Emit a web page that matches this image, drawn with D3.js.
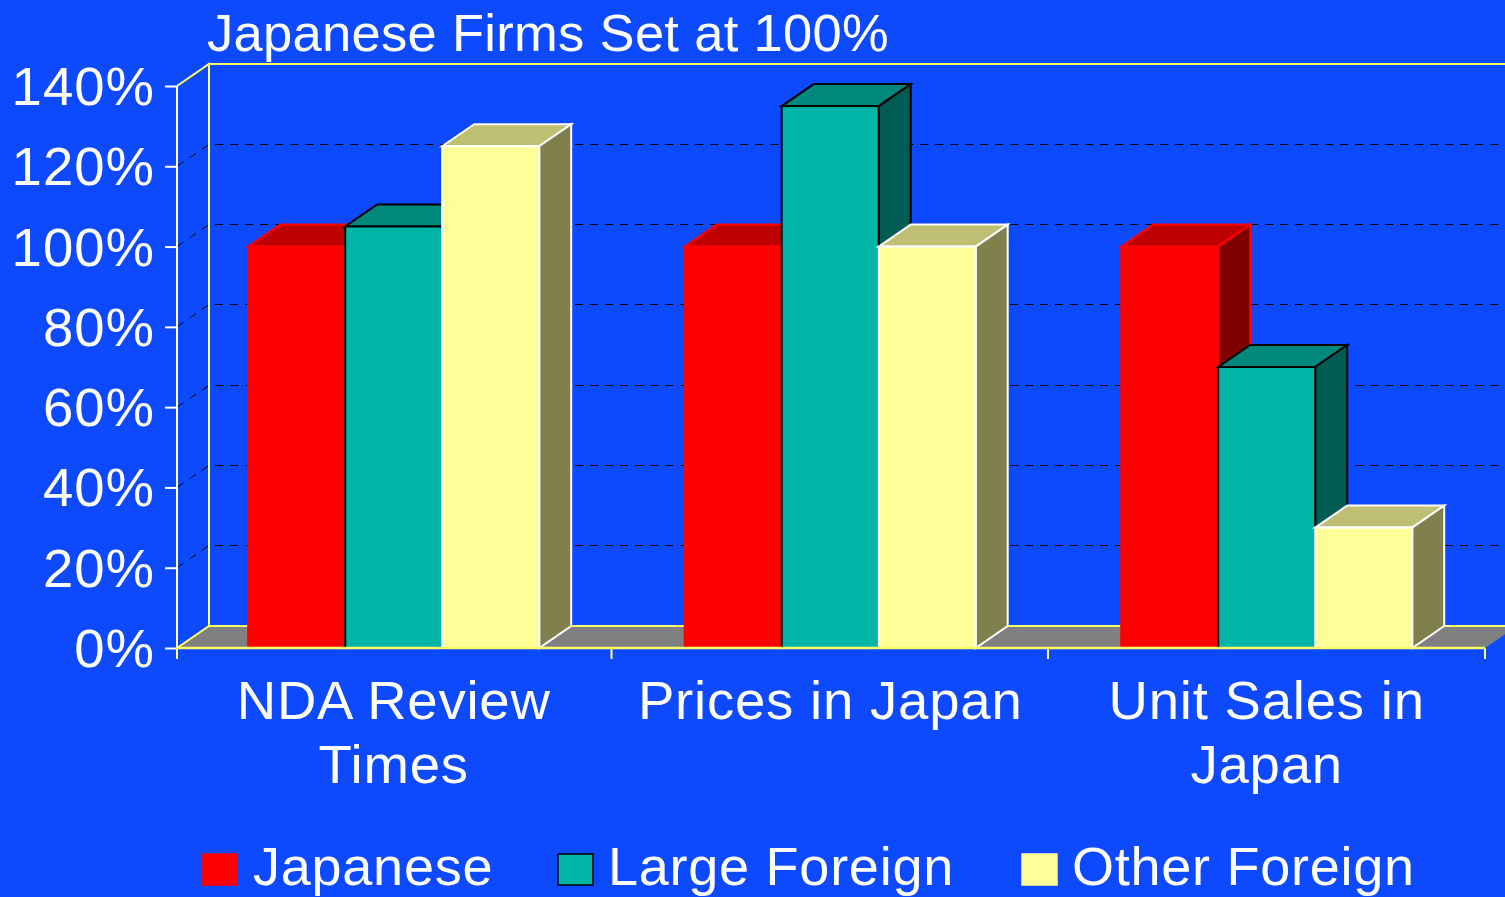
<!DOCTYPE html>
<html><head><meta charset="utf-8">
<script src="https://cdnjs.cloudflare.com/ajax/libs/d3/7.8.5/d3.min.js"></script>
<style>html,body{margin:0;padding:0;background:#0d49ff;overflow:hidden}text{font-family:"Liberation Sans",Arial,sans-serif;fill:#fff}</style>
</head><body><svg id="c" width="1505" height="897"></svg>
<script>
const titleText = "Japanese Firms Set at 100%";
const categories = [["NDA Review","Times"],["Prices in Japan"],["Unit Sales in","Japan"]];
const seriesNames = ["Japanese","Large Foreign","Other Foreign"];
const japanese = [100,100,100];
const largeForeign = [105,135,70];
const otherForeign = [125,100,30];
const yTicks = [0,20,40,60,80,100,120,140];
const seriesValues = [japanese,largeForeign,otherForeign];
const fronts = ["#ff0000","#00b5a5","#ffff99"];
const tops = ["#bf0000","#00887c","#bfbf73"];
const sides = ["#800000","#005b53","#80804d"];
const strokes = ["#ff0000","#000000","#ffffff"];

const dx = 32, dy = -22;
const svg = d3.select("#c");
const x0 = d3.scaleBand().domain(d3.range(categories.length)).range([175.45,1484.95]).paddingInner(1/3).paddingOuter(1/6);
const x1 = d3.scaleBand().domain(d3.range(seriesNames.length)).range([0,x0.bandwidth()]);
const y = d3.scaleLinear().domain([0,140]).range([648,86]);
const AXIS = "#ffff66";

// floor
svg.append("path").attr("d",`M177,${y(0)}L${177+dx},${y(0)+dy}H1517L1485,${y(0)}Z`).attr("fill","#808080");
svg.append("path").attr("d",`M177,${y(0)}L${177+dx},${y(0)+dy}H1517`).attr("fill","none").attr("stroke",AXIS).attr("stroke-width",2);

// gridlines
yTicks.filter(t=>t>0 && t<140).forEach(t=>{
  const by = Math.floor(y(t)+dy)+0.5;
  svg.append("path").attr("d",`M177,${y(t)}L${177+dx},${by}H1517`)
    .attr("fill","none").attr("stroke","#000").attr("stroke-width",1).attr("stroke-dasharray","8 7");
});
// back wall frame
svg.append("path").attr("d",`M177,${y(140)}L${177+dx},${y(140)+dy}V${y(0)+dy}M${177+dx},${y(140)+dy}H1517`)
  .attr("fill","none").attr("stroke",AXIS).attr("stroke-width",2);

// bars
categories.forEach((c,i)=>{
  seriesValues.forEach((vals,s)=>{
    const l = x0(i)+x1(s), w = x1.bandwidth(), t = y(vals[i]), b = y(0), r = l+w;
    const g = svg.append("g").attr("stroke",strokes[s]).attr("stroke-width",2).attr("stroke-linejoin","miter");
    g.append("path").attr("d",`M${l},${t}L${l+dx},${t+dy}H${r+dx}L${r},${t}Z`).attr("fill",tops[s]);
    g.append("path").attr("d",`M${r},${t}L${r+dx},${t+dy}V${b+dy}L${r},${b}Z`).attr("fill",sides[s]);
    g.append("rect").attr("x",l).attr("y",t).attr("width",w).attr("height",b-t).attr("fill",fronts[s]);
  });
});

// axes
const yAxis = d3.axisLeft(y).tickValues(yTicks).tickSize(12).tickPadding(10).tickFormat(d=>d+"%");
const yg = svg.append("g").attr("transform","translate(177,0)").call(yAxis);
yg.selectAll("path,line").attr("stroke","#fff").attr("stroke-width",2);
yg.select(".domain").attr("d",`M0,${y(140)}V${y(0)}`);
yg.selectAll("text").attr("font-size",54.5).attr("letter-spacing",1).attr("font-family",'"Liberation Sans"').attr("fill","#fff").attr("dy","0.34em");

const xTickVals = [177,611.5,1048,1485];
svg.append("path").attr("d",`M177,${y(0)}H1485`).attr("stroke",AXIS).attr("stroke-width",2.5).attr("fill","none");
svg.selectAll(".xt").data(xTickVals).enter().append("line").attr("x1",d=>d).attr("x2",d=>d).attr("y1",y(0)).attr("y2",y(0)+11).attr("stroke",AXIS).attr("stroke-width",2);

categories.forEach((lines,i)=>{
  lines.forEach((ln,j)=>{
    svg.append("text").attr("x",x0(i)+x0.bandwidth()/2).attr("y",719+j*63.5).attr("text-anchor","middle").attr("font-size",54.5).attr("letter-spacing",0.8).text(ln);
  });
});

svg.append("text").attr("x",207).attr("y",50.5).attr("font-size",52.5).attr("letter-spacing",0.3).text(titleText);

// legend
const legX = [202,558,1022];
const legTextX = [253,608,1072];
seriesNames.forEach((n,i)=>{
  svg.append("rect").attr("x",legX[i]).attr("y",854).attr("width",35).attr("height",31).attr("fill",fronts[i]).attr("stroke",strokes[i]==="#ffffff"?"#ffff99":strokes[i]).attr("stroke-width",1.5);
  svg.append("text").attr("x",legTextX[i]).attr("y",885).attr("font-size",54).attr("letter-spacing",0.75).text(n);
});
</script></body></html>
